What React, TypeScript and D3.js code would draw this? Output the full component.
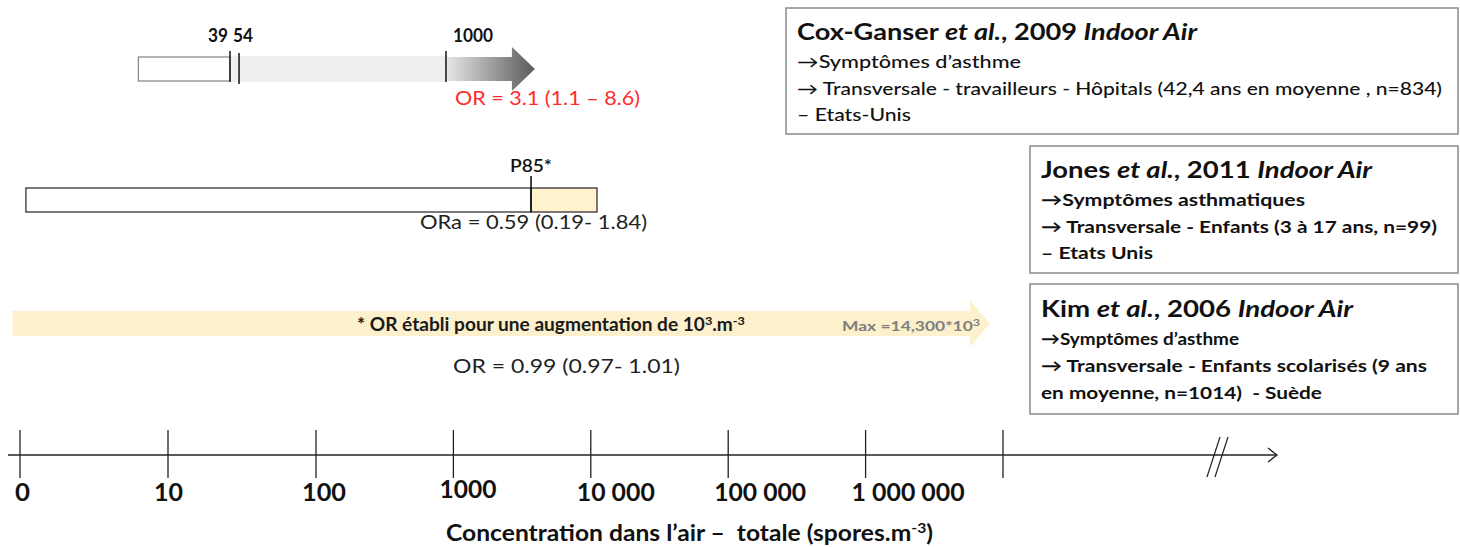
import React from "react";
import * as d3 from "d3";

// Axis categories (log-like schematic scale; index = position)
const tickLabels = ["0", "10", "100", "1000", "10 000", "100 000", "1 000 000", ""];
const tickIndex = [0, 1, 2, 3, 4, 5, 6, 7];
const tickLabelWidths = [15, 29, 44, 57, 78, 92, 113, 0];

// Study bars, in axis-index units
const coxBar = { start: 0.8, greyEnd: 2.946, headStart: 3.426, tip: 3.593 };
const coxMarkers = [
  { label: "39", pos: 1.419 },
  { label: "54", pos: 1.48 },
  { label: "1000", pos: 2.946 },
];
const coxOR = "OR = 3.1 (1.1 – 8.6)";

const jonesBar = { start: 0.04, p85: 3.565, end: 4.045 };
const jonesMarkerLabel = "P85*";
const jonesOR = "ORa = 0.59 (0.19- 1.84)";

const kimBar = { start: -0.05, bodyEnd: 6.76, tip: 6.905 };
const kimOR = "OR = 0.99 (0.97- 1.01)";
const kimMax = "Max =14,300*10";

const coxLines = [
  "→Symptômes d’asthme",
  "→ Transversale - travailleurs - Hôpitals (42,4 ans en moyenne , n=834)",
  "– Etats-Unis",
];
const jonesLines = [
  "→Symptômes asthmatiques",
  "→ Transversale - Enfants (3 à 17 ans, n=99)",
  "– Etats Unis",
];
const kimLines = [
  "→Symptômes d’asthme",
  "→ Transversale - Enfants scolarisés (9 ans",
  "en moyenne, n=1014)  - Suède",
];

const FONT = "Lato, 'Open Sans', sans-serif";

export default function App() {
  const W = 1460;
  const H = 547;
  const x = d3.scaleLinear().domain([0, 2, 7]).range([20, 316, 1003]);
  const axisY = 455;

  const boxLines = (lines: string[], x0: number, y0: number, gap: number, widths: number[], weight: number) =>
    lines.map((t, i) => (
      <text
        key={i}
        x={x0}
        y={y0 + i * gap}
        fontSize={17}
        fontWeight={weight}
        fill="#111"
        textLength={widths[i]}
        lengthAdjust="spacingAndGlyphs"
        style={{ whiteSpace: "pre" }}
      >
        {t}
      </text>
    ));

  const coxBodyTop = 57, coxBodyBot = 81, coxMid = 69;
  const kimTop = 311, kimBot = 336, kimMid = 323.5;

  return (
    <svg
      width={W}
      height={H}
      style={{ position: "absolute", left: 0, top: 0, background: "#fff" }}
      fontFamily={FONT}
    >
      <defs>
        <linearGradient id="coxGrad" gradientUnits="userSpaceOnUse" x1={x(coxBar.greyEnd)} x2={x(coxBar.tip)} y1={0} y2={0}>
          <stop offset="0" stopColor="#e8e8e8" />
          <stop offset="1" stopColor="#5a5a5a" />
        </linearGradient>
      </defs>

      {/* ---------- Cox-Ganser bar ---------- */}
      <rect
        x={x(coxBar.start)}
        y={coxBodyTop}
        width={x(coxMarkers[0].pos) - x(coxBar.start)}
        height={coxBodyBot - coxBodyTop}
        fill="#fff"
        stroke="#8c8c8c"
        strokeWidth={1.3}
      />
      <rect
        x={x(coxMarkers[0].pos)}
        y={coxBodyTop - 1}
        width={x(coxBar.greyEnd) - x(coxMarkers[0].pos)}
        height={coxBodyBot - coxBodyTop + 2}
        fill="#efefef"
      />
      <path
        d={`M${x(coxBar.greyEnd)},${coxBodyTop}L${x(coxBar.headStart)},${coxBodyTop}L${x(coxBar.headStart)},${coxMid - 22}L${x(coxBar.tip)},${coxMid}L${x(coxBar.headStart)},${coxMid + 22}L${x(coxBar.headStart)},${coxBodyBot}L${x(coxBar.greyEnd)},${coxBodyBot}Z`}
        fill="url(#coxGrad)"
      />
      {coxMarkers.map((m, i) => (
        <line key={m.label} x1={x(m.pos)} x2={x(m.pos)} y1={i === 1 ? 53 : 51} y2={i === 1 ? 84 : 82} stroke="#111" strokeWidth={1.5} />
      ))}
      <text x={x(coxMarkers[0].pos) - 2} y={42} fontSize={18} fontWeight={700} textAnchor="end" fill="#111" textLength={20} lengthAdjust="spacingAndGlyphs">{coxMarkers[0].label}</text>
      <text x={x(coxMarkers[1].pos) - 6} y={42} fontSize={18} fontWeight={700} textAnchor="start" fill="#111" textLength={20} lengthAdjust="spacingAndGlyphs">{coxMarkers[1].label}</text>
      <text x={x(coxMarkers[2].pos) + 7} y={42} fontSize={18} fontWeight={700} textAnchor="start" fill="#111" textLength={40} lengthAdjust="spacingAndGlyphs">{coxMarkers[2].label}</text>
      <text x={x(coxMarkers[2].pos) + 9} y={105} fontSize={19} fill="#ff2b2b" textLength={185} lengthAdjust="spacingAndGlyphs">{coxOR}</text>

      {/* ---------- Jones bar ---------- */}
      <rect
        x={x(jonesBar.start)}
        y={188}
        width={x(jonesBar.p85) - x(jonesBar.start)}
        height={24}
        fill="#fff"
        stroke="#222"
        strokeWidth={1.2}
      />
      <rect
        x={x(jonesBar.p85)}
        y={188}
        width={x(jonesBar.end) - x(jonesBar.p85)}
        height={24}
        fill="#fff2cc"
        stroke="#222"
        strokeWidth={1.2}
      />
      <line x1={x(jonesBar.p85)} x2={x(jonesBar.p85)} y1={176} y2={212} stroke="#111" strokeWidth={1.6} />
      <text x={x(jonesBar.p85) - 21} y={172} fontSize={18} fontWeight={600} fill="#111" textLength={42} lengthAdjust="spacingAndGlyphs">{jonesMarkerLabel}</text>
      <text x={420} y={229} fontSize={19} fill="#222" textLength={227} lengthAdjust="spacingAndGlyphs">{jonesOR}</text>

      {/* ---------- Kim arrow ---------- */}
      <path
        d={`M${x(kimBar.start)},${kimTop}L${x(kimBar.bodyEnd)},${kimTop}L${x(kimBar.bodyEnd)},${kimMid - 23}L${x(kimBar.tip)},${kimMid}L${x(kimBar.bodyEnd)},${kimMid + 23}L${x(kimBar.bodyEnd)},${kimBot}L${x(kimBar.start)},${kimBot}Z`}
        fill="#fdf0cc"
      />
      <text x={357} y={331} fontSize={18} fontWeight={700} fill="#1a1a1a" textLength={388} lengthAdjust="spacingAndGlyphs">
        <tspan>* OR établi pour une augmentation de 10</tspan>
        <tspan fontSize={12} dy={-6}>3</tspan>
        <tspan dy={6}>.m</tspan>
        <tspan fontSize={12} dy={-6}>-3</tspan>
      </text>
      <text x={842} y={331} fontSize={14} fontWeight={700} fill="#7f7f7f" textLength={138} lengthAdjust="spacingAndGlyphs">
        <tspan>{kimMax}</tspan>
        <tspan fontSize={10} dy={-5}>3</tspan>
      </text>
      <text x={453} y={373} fontSize={19} fill="#222" textLength={227} lengthAdjust="spacingAndGlyphs">{kimOR}</text>

      {/* ---------- Boxes ---------- */}
      <rect x={786} y={8} width={672} height={126} fill="#fff" stroke="#8a8a8a" strokeWidth={1.5} />
      <text x={797} y={40} fontSize={23} fontWeight={700} fill="#111" textLength={400} lengthAdjust="spacingAndGlyphs">
        <tspan>Cox-Ganser </tspan>
        <tspan fontStyle="italic">et al.</tspan>
        <tspan>, 2009 </tspan>
        <tspan fontStyle="italic">Indoor Air</tspan>
      </text>
      {boxLines(coxLines, 797, 68, 26.5, [224, 645, 114], 500)}

      <rect x={1030} y={146} width={428} height={127} fill="#fff" stroke="#8a8a8a" strokeWidth={1.5} />
      <text x={1041} y={178} fontSize={23} fontWeight={700} fill="#111" textLength={331} lengthAdjust="spacingAndGlyphs">
        <tspan>Jones </tspan>
        <tspan fontStyle="italic">et al.</tspan>
        <tspan>, 2011 </tspan>
        <tspan fontStyle="italic">Indoor Air</tspan>
      </text>
      {boxLines(jonesLines, 1041, 206, 26.5, [264, 396, 112], 700)}

      <rect x={1030} y={284} width={428} height={130} fill="#fff" stroke="#8a8a8a" strokeWidth={1.5} />
      <text x={1041} y={317} fontSize={23} fontWeight={700} fill="#111" textLength={312} lengthAdjust="spacingAndGlyphs">
        <tspan>Kim </tspan>
        <tspan fontStyle="italic">et al.</tspan>
        <tspan>, 2006 </tspan>
        <tspan fontStyle="italic">Indoor Air</tspan>
      </text>
      {boxLines(kimLines, 1041, 345, 27, [198, 386, 281], 700)}

      {/* ---------- Axis ---------- */}
      <line x1={8} x2={1277} y1={axisY} y2={axisY} stroke="#222" strokeWidth={1.5} />
      <path d={`M1268,${axisY - 7}L1277,${axisY}L1268,${axisY + 7}`} fill="none" stroke="#222" strokeWidth={1.3} />
      <line x1={1207} x2={1220} y1={477} y2={437} stroke="#222" strokeWidth={1.2} />
      <line x1={1215} x2={1228} y1={477} y2={437} stroke="#222" strokeWidth={1.2} />
      {tickIndex.map((t) => (
        <g key={t}>
          <line x1={x(t)} x2={x(t)} y1={430} y2={478} stroke="#222" strokeWidth={1.3} />
          {tickLabels[t] !== "" && (
            <text
              x={x(t) + (t === 0 ? -5 : -14)}
              y={tickLabels[t] === "1000" ? 498 : 501}
              fontSize={24}
              fontWeight={700}
              fill="#111"
              textLength={tickLabelWidths[t]}
              lengthAdjust="spacingAndGlyphs"
              style={{ whiteSpace: "pre" }}
            >
              {tickLabels[t]}
            </text>
          )}
        </g>
      ))}
      <text x={446} y={541} fontSize={22} fontWeight={700} fill="#111" textLength={487} lengthAdjust="spacingAndGlyphs" style={{ whiteSpace: "pre" }}>
        <tspan>Concentration dans l’air –  totale (spores.m</tspan>
        <tspan fontSize={14} dy={-8}>-3</tspan>
        <tspan dy={8}>)</tspan>
      </text>
    </svg>
  );
}
